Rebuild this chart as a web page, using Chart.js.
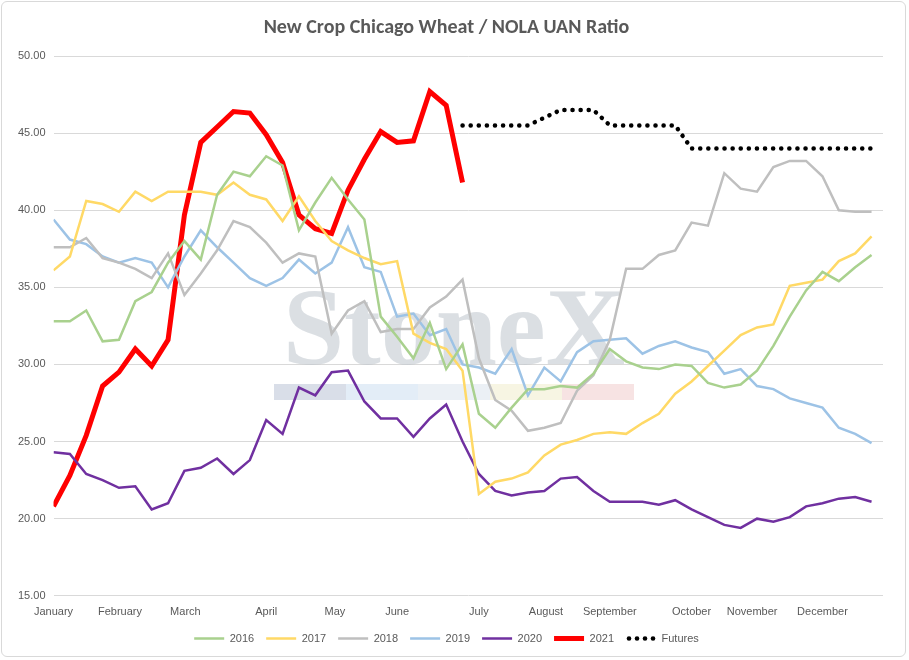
<!DOCTYPE html>
<html><head><meta charset="utf-8">
<script src="https://cdn.jsdelivr.net/npm/chart.js@4"></script>
<style>
html,body{margin:0;padding:0;background:#fff;}
#wrap{position:absolute;left:1px;top:1px;width:905px;height:656px;border:1px solid #d9d9d9;border-radius:6px;box-sizing:border-box;}
canvas{display:block;}
</style></head><body>
<div id="wrap"><canvas id="c"></canvas></div>
<script>
const monthLabels=["January","February","March","April","May","June","July","August","September","October","November","December"];
const monthPos=[0,4.06,8.06,13.0,17.2,21.0,26.0,30.1,34.0,39.0,42.7,47.0];
const s2016=[32.8,32.8,33.5,31.5,31.6,34.1,34.7,36.6,38.0,36.8,41.0,42.5,42.2,43.5,42.9,38.7,40.5,42.1,40.7,39.4,33.1,31.8,30.4,32.7,29.7,31.3,26.8,25.9,27.2,28.4,28.4,28.6,28.5,29.4,31.0,30.2,29.8,29.7,30.0,29.9,28.8,28.5,28.7,29.6,31.2,33.1,34.8,36.0,35.4,36.3,37.1];
const s2017=[36.1,37.0,40.6,40.4,39.9,41.2,40.6,41.2,41.2,41.2,41.0,41.8,41.0,40.7,39.3,40.9,39.3,38.0,37.4,36.9,36.5,36.7,32.0,31.4,31.0,29.6,21.6,22.4,22.6,23.0,24.1,24.8,25.1,25.5,25.6,25.5,26.2,26.8,28.1,28.9,29.9,30.9,31.9,32.4,32.6,35.1,35.3,35.5,36.7,37.2,38.3];
const s2018=[37.6,37.6,38.2,36.9,36.6,36.2,35.6,37.2,34.5,35.9,37.4,39.3,38.9,37.9,36.6,37.2,37.0,32.0,33.5,34.1,32.1,32.3,32.3,33.7,34.4,35.5,30.4,27.7,27.0,25.7,25.9,26.2,28.3,29.3,31.6,36.2,36.2,37.1,37.4,39.2,39.0,42.4,41.4,41.2,42.8,43.2,43.2,42.2,40.0,39.9,39.9];
const s2019=[39.4,38.1,37.8,37.0,36.6,36.9,36.6,35.0,37.0,38.7,37.6,36.6,35.6,35.1,35.6,36.8,35.9,36.6,38.9,36.3,36.0,33.1,33.3,31.9,32.3,30.0,29.8,29.4,31.0,28.0,29.8,28.9,30.8,31.5,31.6,31.7,30.7,31.2,31.5,31.1,30.8,29.4,29.7,28.6,28.4,27.8,27.5,27.2,25.9,25.5,24.9];
const s2020=[24.3,24.2,22.9,22.5,22.0,22.1,20.6,21.0,23.1,23.3,23.9,22.9,23.8,26.4,25.5,28.5,28.0,29.5,29.6,27.6,26.5,26.5,25.3,26.5,27.4,25.0,22.9,21.8,21.5,21.7,21.8,22.6,22.7,21.8,21.1,21.1,21.1,20.9,21.2,20.6,20.1,19.6,19.4,20.0,19.8,20.1,20.8,21.0,21.3,21.4,21.1];
const s2021=[20.8,22.8,25.4,28.6,29.5,31.0,29.9,31.6,39.7,44.4,45.4,46.4,46.3,44.9,43.1,39.7,38.8,38.5,41.3,43.3,45.1,44.4,44.5,47.7,46.8,41.8];
const futuresStart=25;
const futures=[45.5,45.5,45.5,45.5,45.5,46.0,46.5,46.5,46.5,45.5,45.5,45.5,45.5,45.5,44.0,44.0,44.0,44.0,44.0,44.0,44.0,44.0,44.0,44.0,44.0,44.0];
const yTicks=[15,20,25,30,35,40,45,50];

const pts=(arr,off=0)=>arr.map((v,i)=>({x:i+off,y:v}));
const ds=(label,data,color,w,extra={})=>Object.assign({label,data,borderColor:color,backgroundColor:color,borderWidth:w,pointRadius:0,tension:0,fill:false},extra);

const watermark={id:'wm',beforeDatasetsDraw(c){
  const ctx=c.ctx;ctx.save();
  ctx.font='bold 110px "Liberation Serif", serif';ctx.fillStyle='rgba(190,196,204,0.55)';
  ctx.textAlign='center';ctx.textBaseline='alphabetic';
  ctx.fillText('StoneX',452,362);
  const cols=['rgba(180,190,210,0.5)','rgba(200,220,240,0.5)','rgba(215,225,235,0.5)','rgba(240,235,200,0.5)','rgba(240,200,200,0.5)'];
  const bx=272,bw=72;
  cols.forEach((cl,i)=>{ctx.fillStyle=cl;ctx.fillRect(bx+i*bw,382,bw,16);});
  ctx.restore();}};

const dottedLegend={id:'dl',afterDraw(c){
  const lg=c.legend;if(!lg||!lg.legendHitBoxes)return;
  const i=6,hb=lg.legendHitBoxes[i];if(!hb)return;
  const ctx=c.ctx;ctx.save();
  ctx.fillStyle='#fff';ctx.fillRect(hb.left-2,hb.top-1,34,hb.height+2);
  ctx.fillStyle='#000';
  const cy=hb.top+hb.height/2;
  for(let k=0;k<4;k++){ctx.beginPath();ctx.arc(hb.left+3+k*8,cy,2.3,0,Math.PI*2);ctx.fill();}
  ctx.restore();}};

new Chart(document.getElementById('c'),{
  type:'line',
  data:{datasets:[
    ds('2016',pts(s2016),'#a9d18e',2.5),
    ds('2017',pts(s2017),'#ffd966',2.5),
    ds('2018',pts(s2018),'#bfbfbf',2.5),
    ds('2019',pts(s2019),'#9dc3e6',2.5),
    ds('2020',pts(s2020),'#7030a0',2.5),
    ds('2021',pts(s2021),'#ff0000',5),
    ds('Futures',pts(futures,futuresStart),'#000000',4.5,{borderDash:[0.1,8],borderCapStyle:'round'})
  ]},
  options:{
    responsive:true,maintainAspectRatio:false,animation:false,
    layout:{padding:{left:8,right:22,top:4,bottom:2}},
    plugins:{
      title:{display:true,text:'New Crop Chicago Wheat / NOLA UAN Ratio',color:'#595959',font:{family:'Calibri, "Liberation Sans", Arial',size:20,weight:'bold'},padding:{top:10,bottom:16}},
      legend:{position:'bottom',labels:{usePointStyle:true,pointStyle:'line',pointStyleWidth:30,color:'#595959',font:{size:11},padding:12,boxHeight:8}},
      tooltip:{enabled:false}
    },
    scales:{
      x:{type:'linear',min:0,max:50.7,
        afterBuildTicks(a){a.ticks=monthPos.map(v=>({value:v}));},
        ticks:{autoSkip:false,maxRotation:0,color:'#595959',font:{size:11},padding:2,
          callback:(v)=>{const i=monthPos.indexOf(v);return i>=0?monthLabels[i]:'';}},
        grid:{display:false},border:{display:false}},
      y:{min:15,max:50,
        afterBuildTicks(a){a.ticks=yTicks.map(v=>({value:v}));},
        ticks:{color:'#595959',font:{size:11},padding:8,callback:v=>v.toFixed(2)},
        grid:{color:'#d9d9d9',drawTicks:false},border:{display:false}}
    }
  },
  plugins:[watermark,dottedLegend]
});
</script></body></html>
